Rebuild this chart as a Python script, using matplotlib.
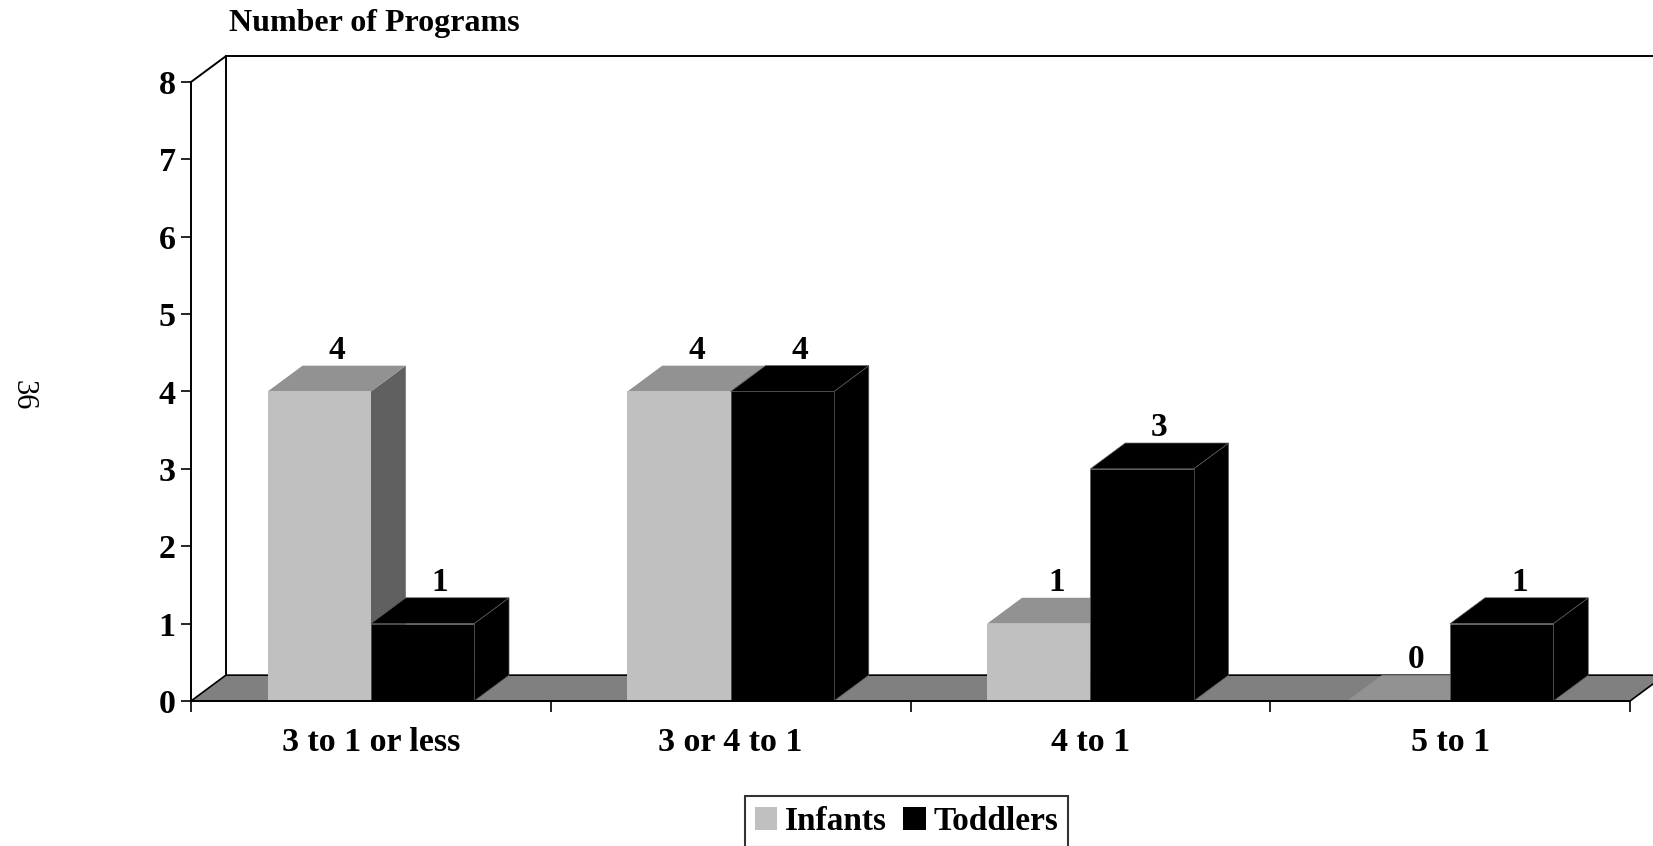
import matplotlib.pyplot as plt
from matplotlib.patches import Polygon, Patch

# -----------------------------
# data
# -----------------------------
categories = ["3 to 1 or less", "3 or 4 to 1", "4 to 1", "5 to 1"]
series = ["Infants", "Toddlers"]
infants = [4, 4, 1, 0]
toddlers = [1, 4, 3, 1]
y_ticks = [0, 1, 2, 3, 4, 5, 6, 7, 8]

plt.rcParams['font.family'] = ['Liberation Serif', 'DejaVu Serif']

# -----------------------------
# figure / axes placed to match the page
# -----------------------------
W, H = 1653, 846
fig = plt.figure(figsize=(W / 100, H / 100), dpi=100)
px_left, px_right = 191, 1630
px_top, px_bottom = 82, 701
ax = fig.add_axes([px_left / W, 1 - px_bottom / H,
                   (px_right - px_left) / W, (px_bottom - px_top) / H])
ax.set_xlim(0, len(categories))
ax.set_ylim(0, y_ticks[-1])
ax.patch.set_visible(False)
for s in ['top', 'right']:
    ax.spines[s].set_visible(False)
for s in ['left', 'bottom']:
    ax.spines[s].set_linewidth(1.4)
    ax.spines[s].set_zorder(5)

# fake 3d depth (in data units)
dx, dy = 0.097, 0.334
ymax = y_ticks[-1]
ncat = len(categories)

# floor
ax.add_patch(Polygon([(0, 0), (ncat, 0), (ncat + dx, dy), (dx, dy)], closed=True,
                     facecolor='#808080', edgecolor='black', lw=1.2, clip_on=False, zorder=1))
# back wall outline
ax.plot([0, dx], [ymax, ymax + dy], color='black', lw=1.4, clip_on=False, zorder=1)
ax.plot([dx, dx], [dy, ymax + dy], color='black', lw=1.4, clip_on=False, zorder=1)
ax.plot([dx, ncat + dx], [ymax + dy, ymax + dy], color='black', lw=1.4, clip_on=False, zorder=1)

# -----------------------------
# 3d-looking bars
# -----------------------------
bar_w = 0.287
gap = (1 - 2 * bar_w) / 2
styles = {
    "Infants": dict(front='#c0c0c0', top='#929292', side='#606060', edge='none'),
    "Toddlers": dict(front='black', top='black', side='black', edge='#5a5a5a'),
}
values = {"Infants": infants, "Toddlers": toddlers}

for c in range(ncat):
    for k, name in enumerate(series):
        h = values[name][c]
        st = styles[name]
        xa = c + gap + k * bar_w
        xb = xa + bar_w
        lw = 0.5 if st['edge'] != 'none' else 0
        # side
        ax.add_patch(Polygon([(xb, 0), (xb + dx, dy), (xb + dx, h + dy), (xb, h)],
                             facecolor=st['side'], edgecolor=st['edge'], lw=lw,
                             clip_on=False, zorder=2))
        # top
        ax.add_patch(Polygon([(xa, h), (xb, h), (xb + dx, h + dy), (xa + dx, h + dy)],
                             facecolor=st['top'], edgecolor=st['edge'], lw=lw,
                             clip_on=False, zorder=2))
        # front
        ax.add_patch(Polygon([(xa, 0), (xb, 0), (xb, h), (xa, h)],
                             facecolor=st['front'], edgecolor=st['edge'], lw=lw,
                             clip_on=False, zorder=2))
        ax.text((xa + xb) / 2 + dx / 2, h + dy, str(h), ha='center', va='bottom',
                fontsize=24, fontweight='bold', zorder=3)

# -----------------------------
# ticks
# -----------------------------
ax.set_yticks(y_ticks)
ax.set_yticklabels([str(t) for t in y_ticks], fontsize=24.5, fontweight='bold')
ax.tick_params(axis='y', length=7, width=1.2, pad=4)

ax.set_xticks(range(ncat + 1))
ax.set_xticklabels([])
ax.tick_params(axis='x', which='major', length=8, width=1.2)
ax.set_xticks([c + 0.5 for c in range(ncat)], minor=True)
ax.set_xticklabels(categories, minor=True, fontsize=24.5, fontweight='bold')
ax.tick_params(axis='x', which='minor', length=0, pad=19)

# title and page number
fig.text(229 / W, 1 - 23 / H, "Number of Programs", ha='left', va='center',
         fontsize=23, fontweight='bold')
fig.text(23 / W, 1 - 395 / H, "36", ha='center', va='center', rotation=-90, fontsize=22)

# legend
handles = [Patch(facecolor=styles[n]['front'], edgecolor='none') for n in series]
leg = fig.legend(handles, series, loc='upper center', bbox_to_anchor=(906.5 / W, 1 - 796 / H),
                 ncol=2, frameon=True, fancybox=False, edgecolor='black',
                 handlelength=0.68, handleheight=0.68, handletextpad=0.22,
                 columnspacing=0.5, borderpad=0.3, borderaxespad=0,
                 prop=dict(family='Liberation Serif', weight='bold', size=24))
leg.get_frame().set_linewidth(1.5)

fig.savefig("out.png", dpi=100)
